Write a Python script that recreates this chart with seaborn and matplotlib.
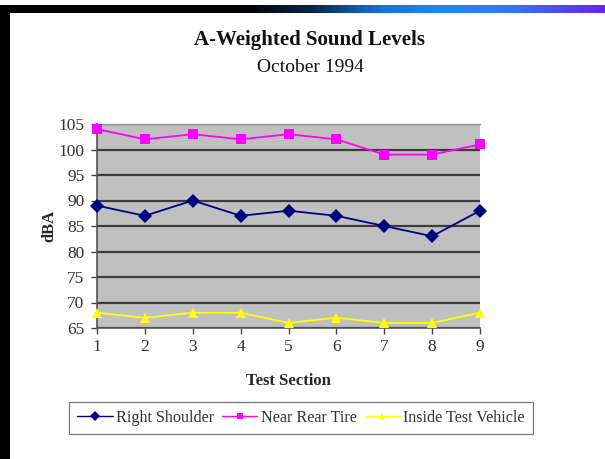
import numpy as np
import pandas as pd
import matplotlib
matplotlib.use("Agg")
import matplotlib.pyplot as plt
from matplotlib.colors import LinearSegmentedColormap
from matplotlib.patches import Rectangle
import seaborn as sns

# Sound level measurements per test section (dBA)
sections = [1, 2, 3, 4, 5, 6, 7, 8, 9]
right_shoulder = [89, 87, 90, 87, 88, 87, 85, 83, 88]
near_rear_tire = [104, 102, 103, 102, 103, 102, 99, 99, 101]
inside_vehicle = [68, 67, 68, 68, 66, 67, 66, 66, 68]
series_names = ["Right Shoulder", "Near Rear Tire", "Inside Test Vehicle"]
y_ticks = [65, 70, 75, 80, 85, 90, 95, 100, 105]

df = pd.DataFrame({
    "Test Section": sections * 3,
    "dBA": right_shoulder + near_rear_tire + inside_vehicle,
    "Series": [series_names[0]] * 9 + [series_names[1]] * 9 + [series_names[2]] * 9,
})

sns.set_theme(style="white")
plt.rcParams["font.family"] = ["Liberation Serif", "DejaVu Serif"]

fig = plt.figure(figsize=(6.05, 4.59), dpi=100)
fig.patch.set_facecolor("white")

# slide frame: black left bar and top bar fading into blue/violet
fig.patches.append(Rectangle((0, 0), 10 / 605, 1 - 5 / 459, transform=fig.transFigure,
                             facecolor="black", edgecolor="none", zorder=0))
grad_ax = fig.add_axes([0, 1 - 13 / 459, 1, 8 / 459])
cmap = LinearSegmentedColormap.from_list(
    "bar", [(0.0, "#000000"), (0.40, "#000000"), (0.52, "#08284e"),
            (0.63, "#1a72d4"), (0.73, "#1e8af0"), (0.86, "#3870f0"), (1.0, "#6a24ee")])
grad_ax.imshow(np.linspace(0, 1, 600)[None, :], aspect="auto", cmap=cmap)
grad_ax.set_axis_off()

ax = fig.add_axes([97 / 605, 1 - 328 / 459, 383 / 605, 204 / 459])
ax.set_facecolor("#c0c0c0")

palette = {series_names[0]: "#000080", series_names[1]: "#ff00ff", series_names[2]: "#ffff00"}
markers = {series_names[0]: "D", series_names[1]: "s", series_names[2]: "^"}
sns.lineplot(data=df, x="Test Section", y="dBA", hue="Series", style="Series",
             palette=palette, markers=markers, dashes=False, markersize=7,
             markeredgewidth=0, linewidth=1.3, ax=ax, zorder=3, clip_on=False)

ax.set_xlim(1, 9)
ax.set_ylim(65, 105)
ax.set_xticks(sections)
ax.set_yticks(y_ticks)
ax.yaxis.grid(True, color="#3c3c3c", linewidth=1.6)
ax.xaxis.grid(False)
ax.set_axisbelow(True)

for side in ["left", "bottom"]:
    ax.spines[side].set_color("#555555")
    ax.spines[side].set_linewidth(1.2)
ax.spines["top"].set_color("#9a9a9a")
ax.spines["top"].set_linewidth(1.0)
ax.spines["right"].set_visible(False)

ax.tick_params(axis="both", which="both", direction="out", colors="#444444",
               labelcolor="#333333", labelsize=12.5, length=4, width=1,
               left=True, bottom=True)
ax.tick_params(axis="x", pad=4)
ax.tick_params(axis="y", pad=5)

ax.set_xlabel("Test Section", fontsize=12, fontweight="bold", labelpad=13)
ax.set_ylabel("dBA", fontsize=12, fontweight="bold", labelpad=1)

fig.text(309 / 605, 1 - 40 / 459, "A-Weighted Sound Levels", ha="center", va="center",
         fontsize=15, fontweight="bold", color="#111111")
fig.text(310 / 605, 1 - 67 / 459, "October 1994", ha="center", va="center",
         fontsize=14, color="#111111")

handles, labels = ax.get_legend_handles_labels()
ax.legend_.remove()
for h in handles:
    h.set_markersize(5)
    h.set_linewidth(1.0)
leg = fig.legend(handles, labels, loc="center", bbox_to_anchor=(301 / 605, 1 - 418 / 459),
                 ncol=3, frameon=True, fancybox=False, fontsize=11.6,
                 handlelength=2.2, handletextpad=0.2, columnspacing=0.5,
                 borderpad=0.5, edgecolor="#555555")
leg.get_frame().set_linewidth(0.9)
for t in leg.get_texts():
    t.set_color("#333333")

fig.savefig("out.png", dpi=100)
